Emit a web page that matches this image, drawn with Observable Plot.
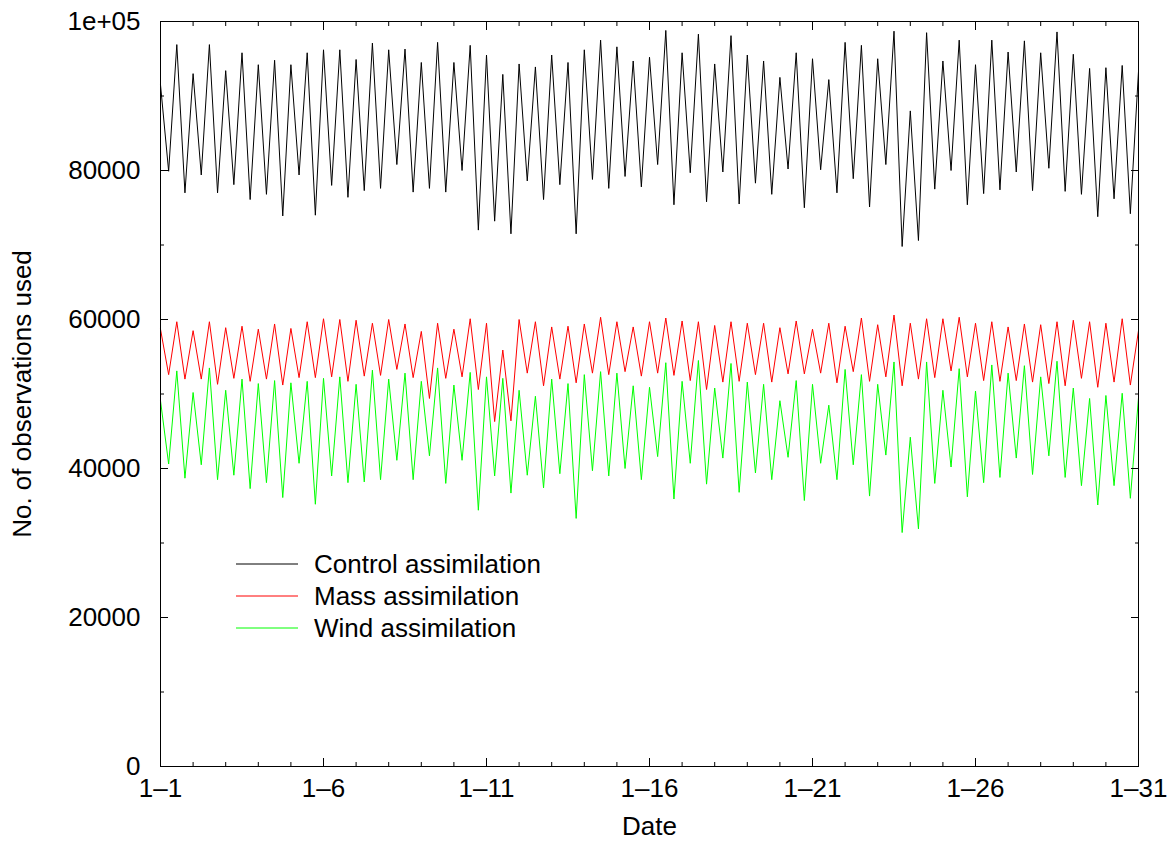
<!DOCTYPE html>
<html>
<head>
<meta charset="utf-8">
<script src="https://cdn.jsdelivr.net/npm/d3@7"></script>
<script src="https://cdn.jsdelivr.net/npm/@observablehq/plot@0.6"></script>
<style>
  html, body { margin: 0; padding: 0; background: #fff; }
  #chart { position: relative; width: 1174px; height: 841px; font-family: "Liberation Sans", Arial, Helvetica, sans-serif; }
  #chart svg { display: block; }
</style>
</head>
<body>
<div id="chart"></div>
<script>
// ---- data (6-hourly analyses, 1-1 00Z .. 1-31 00Z) ----
const seriesNames = ["Control assimilation", "Mass assimilation", "Wind assimilation"];
const seriesColors = ["#000000", "#ff0000", "#00ff00"];

const control = [
  91500, 79900, 96900, 77000, 93000, 79400, 96900, 77000, 93400, 78100,
  95800, 76100, 94200, 76800, 94800, 73900, 94200, 79400, 95800, 74000,
  96200, 78000, 96200, 76400, 94900, 77300, 97100, 77600, 96200, 80800,
  96300, 77100, 94500, 77600, 97200, 77100, 94500, 80000, 96800, 72000,
  95500, 73200, 92900, 71500, 94300, 78600, 93900, 76100, 95500, 78100,
  94500, 71500, 96200, 78800, 97500, 77600, 96600, 79200, 94700, 77800,
  95200, 80800, 98800, 75400, 95800, 79700, 98300, 75800, 94300, 79800,
  98100, 75500, 95500, 78300, 94700, 76800, 92500, 80200, 95800, 75000,
  95000, 80100, 92200, 77000, 97200, 78900, 96800, 75100, 95000, 80800,
  98700, 69800, 88000, 70600, 98500, 77500, 94700, 80000, 97500, 75400,
  94200, 76900, 97500, 77400, 95900, 79800, 97400, 77300, 95800, 80300,
  98600, 77200, 95600, 76800, 93700, 73800, 93800, 76200, 94100, 74200,
  93300
];

const mass = [
  58700, 52600, 59700, 52000, 58500, 52000, 59700, 51300, 58900, 52100,
  59100, 51700, 58700, 52000, 59400, 51200, 58800, 52200, 59700, 52200,
  60100, 52300, 60000, 51700, 59900, 52400, 59500, 52500, 60000, 53300,
  59400, 52200, 58400, 49400, 59500, 52100, 58700, 52300, 60100, 50600,
  59500, 46300, 55900, 46400, 60000, 52800, 59700, 51100, 59000, 52000,
  59100, 51500, 59400, 52800, 60300, 52600, 59700, 53000, 59000, 52400,
  59700, 52800, 60200, 52500, 59800, 51800, 59700, 50600, 59200, 51600,
  59700, 51700, 59500, 52600, 59500, 51600, 58900, 52700, 59800, 52700,
  58700, 52800, 59500, 51500, 59100, 53000, 60200, 51700, 59300, 52300,
  60600, 51100, 59500, 52000, 60100, 52200, 60100, 53100, 60300, 52300,
  59500, 51800, 59700, 51700, 59000, 51800, 59400, 51600, 59300, 51400,
  59700, 51100, 59900, 52100, 59700, 50900, 59500, 51600, 60100, 51200,
  58500
];

const wind = [
  49100, 40600, 53100, 38700, 50200, 40500, 53500, 38500, 50500, 39100,
  52000, 37300, 51400, 38100, 51800, 36100, 51500, 40700, 51700, 35200,
  52100, 39000, 52300, 38100, 51300, 38200, 53200, 38500, 52000, 41100,
  52800, 38500, 51700, 41700, 53500, 38000, 51200, 41100, 52900, 34400,
  52300, 39000, 52100, 36700, 50500, 39100, 49700, 37400, 52000, 39300,
  51400, 33300, 52600, 39700, 53000, 39000, 52800, 40000, 51100, 38500,
  50900, 41600, 54200, 35900, 51700, 40700, 54500, 37900, 50800, 41400,
  54100, 36800, 51600, 39400, 51300, 38500, 49100, 41500, 51800, 35700,
  51300, 40700, 48500, 38500, 53300, 40500, 52600, 36300, 51300, 41800,
  54300, 31400, 44200, 31900, 54300, 38000, 50500, 40200, 53400, 36200,
  50400, 38100, 53900, 38800, 52800, 41400, 53800, 39200, 52300, 41700,
  54400, 38800, 50800, 37700, 49400, 35100, 49800, 37700, 50100, 36000,
  49500
];

// tick values and labels
const xTickValues = [1, 6, 11, 16, 21, 26, 31];
const xTickLabels = ["1\u20131", "1\u20136", "1\u201311", "1\u201316", "1\u201321", "1\u201326", "1\u201331"];
const xMinorTicks = d3.range(1, 32);
const yTickValues = [0, 20000, 40000, 60000, 80000, 100000];
const yTickLabels = ["0", "20000", "40000", "60000", "80000", "1e+05"];
const yMinorTicks = d3.range(0, 100001, 10000);
const xTitle = "Date";
const yTitle = "No. of observations used";

// observation time in days (6-hourly)
const times = control.map((_, i) => 1 + i / 4);

const rows = [];
[control, mass, wind].forEach((arr, s) =>
  arr.forEach((v, i) => rows.push({ t: times[i], v, series: seriesNames[s] }))
);

const FONT = '"Liberation Sans", Arial, Helvetica, sans-serif';

const plot = Plot.plot({
  width: 1174,
  height: 841,
  marginLeft: 160,
  marginRight: 36,
  marginTop: 21,
  marginBottom: 75,
  style: { fontFamily: FONT, fontSize: "26px", background: "white", color: "black" },
  x: { domain: [1, 31], label: null },
  y: { domain: [0, 100000], label: null },
  color: { domain: seriesNames, range: seriesColors },
  marks: [
    Plot.line(rows, { x: "t", y: "v", z: "series", stroke: "series", strokeWidth: 1 }),
    Plot.frame({ stroke: "black", strokeWidth: 1 }),
    // minor ticks (inward)
    Plot.axisX(xMinorTicks, { anchor: "bottom", tickSize: -4, fill: "none", label: null }),
    Plot.axisX(xMinorTicks, { anchor: "top", tickSize: -4, fill: "none", label: null }),
    Plot.axisY(yMinorTicks, { anchor: "left", tickSize: -4, fill: "none", label: null }),
    Plot.axisY(yMinorTicks, { anchor: "right", tickSize: -4, fill: "none", label: null }),
    // major ticks (inward)
    Plot.axisX(xTickValues, { anchor: "bottom", tickSize: -8, fill: "none", label: null }),
    Plot.axisX(xTickValues, { anchor: "top", tickSize: -8, fill: "none", label: null }),
    Plot.axisY(yTickValues, { anchor: "left", tickSize: -8, fill: "none", label: null }),
    Plot.axisY(yTickValues, { anchor: "right", tickSize: -8, fill: "none", label: null }),
    // tick labels
    Plot.axisX(xTickValues, {
      anchor: "bottom", tickSize: 0, tickPadding: 12, fontSize: 26, label: null,
      tickFormat: d => xTickLabels[xTickValues.indexOf(d)]
    }),
    Plot.axisY(yTickValues, {
      anchor: "left", tickSize: 0, tickPadding: 20, fontSize: 26, label: null,
      tickFormat: d => yTickLabels[yTickValues.indexOf(d)]
    }),
    // titles
    Plot.text([yTitle], {
      frameAnchor: "left", rotate: -90, dx: -138, fontSize: 26, fill: "black",
      textAnchor: "middle", lineAnchor: "middle"
    }),
    Plot.text([xTitle], {
      frameAnchor: "bottom", dy: 60, fontSize: 26, fill: "black",
      textAnchor: "middle", lineAnchor: "middle"
    })
  ]
});

const chart = document.getElementById("chart");
chart.appendChild(plot);

// legend (inside the plot area, gnuplot style)
const leg = d3.select(chart).append("svg")
  .attr("width", 1174).attr("height", 841)
  .style("position", "absolute").style("left", "0px").style("top", "0px")
  .style("pointer-events", "none");
seriesNames.forEach((name, k) => {
  const y = 564 + k * 32;
  leg.append("line")
    .attr("x1", 236).attr("x2", 298).attr("y1", y).attr("y2", y)
    .attr("stroke", seriesColors[k]).attr("stroke-width", 1);
  leg.append("text")
    .attr("x", 314).attr("y", y).attr("dy", "0.35em")
    .attr("font-family", FONT).attr("font-size", 26).attr("fill", "black")
    .text(name);
});
</script>
</body>
</html>
